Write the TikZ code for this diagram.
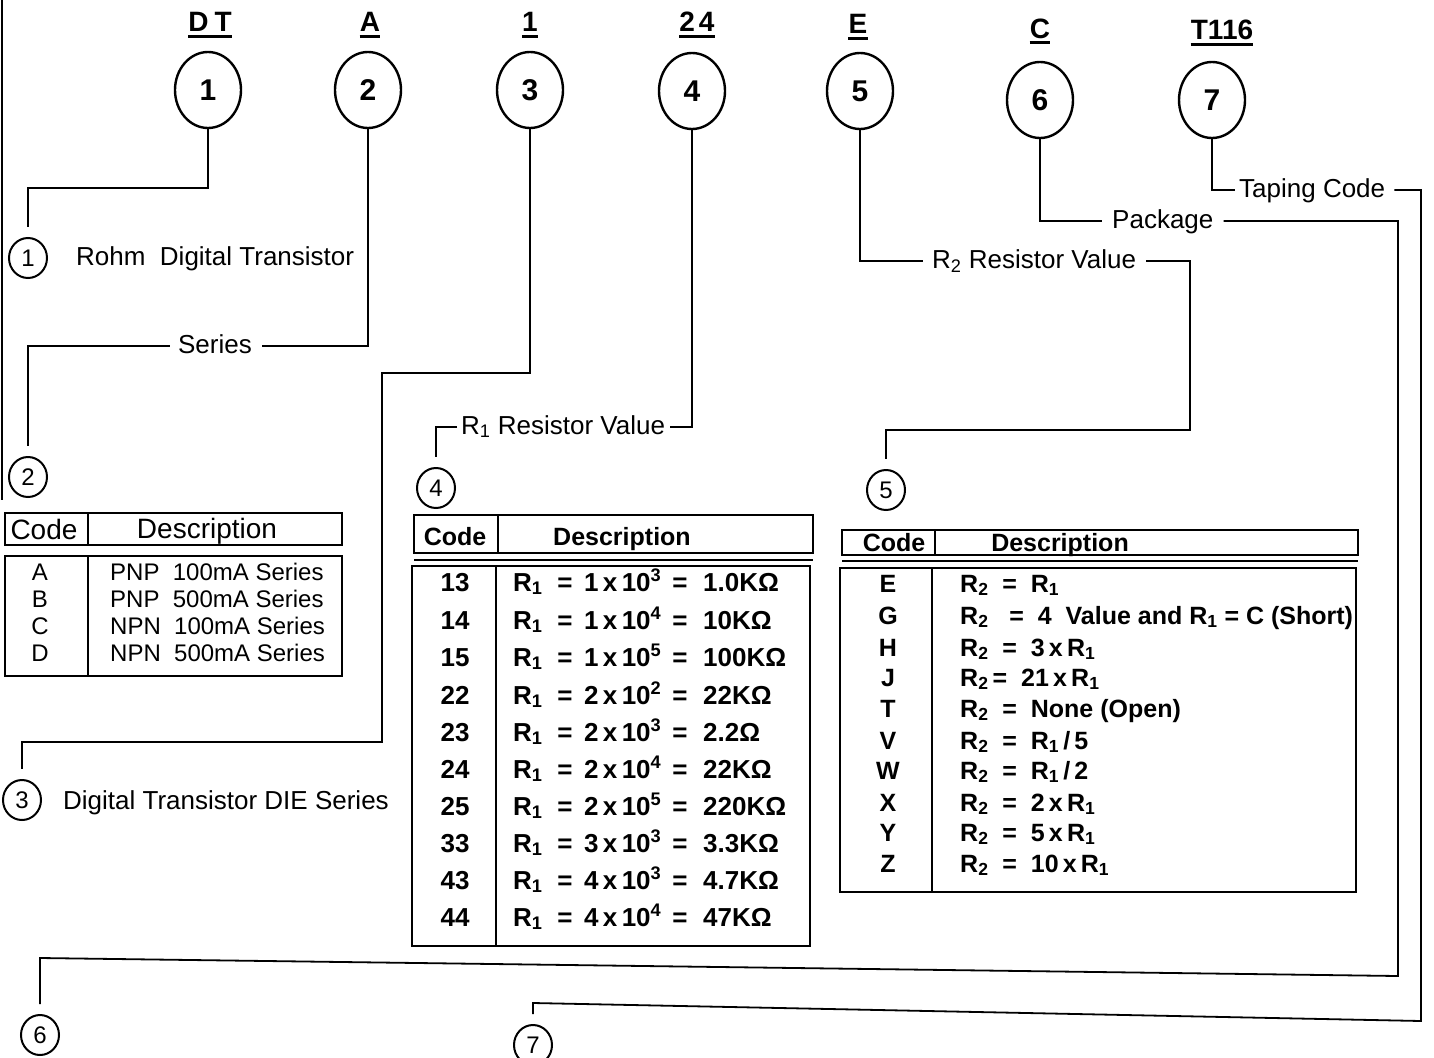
\documentclass[tikz,border=0pt]{standalone}
\usepackage{fontspec}
\setmainfont{Liberation Sans}
\usetikzlibrary{shapes.geometric}
\newcommand\setfs[1]{\fontsize{#1}{#1}\selectfont}
\begin{document}
\begin{tikzpicture}[x=1pt,y=-1pt,
  big/.style={ellipse, draw, line width=2.4pt, minimum width=66pt, minimum height=76pt, inner sep=0pt, font=\setfs{30}\bfseries},
  small/.style={ellipse, draw, line width=2pt, minimum width=38pt, minimum height=40pt, inner sep=0pt, font=\setfs{24}},
  codetxt/.style={font=\setfs{28}\bfseries, inner sep=0pt},
  ul/.style={line width=3pt},
  lab/.style={font=\setfs{26}, inner sep=0pt, text height=19pt, text depth=5pt},
  conn/.style={line width=1.8pt},
  sh/.style={shorten >=10pt},
  tb/.style={line width=2pt},
  h2/.style={font=\setfs{28}, inner sep=0pt},
  t2/.style={font=\setfs{24}, inner sep=0pt},
  h4/.style={font=\setfs{25}\bfseries, inner sep=0pt},
  t4/.style={font=\setfs{26}\bfseries, inner sep=0pt},
  t5/.style={font=\setfs{25}\bfseries, inner sep=0pt}]
\useasboundingbox (0,0) rectangle (1434,1057);
\clip (0,0) rectangle (1434,1057);
% left border
\draw[conn] (2,0) -- (2,500);
% header codes
\node[codetxt, anchor=base] (kDT) at (210,32) {D\hspace{6pt}T};
\node[codetxt, anchor=base] (kA) at (370,32) {A};
\node[codetxt, anchor=base] (k1) at (530,32) {1};
\node[codetxt, anchor=base] (k24) at (697,32) {2\hspace{4pt}4};
\node[codetxt, anchor=base] (kE) at (858,34) {E};
\node[codetxt, anchor=base] (kC) at (1040,38) {C};
\node[codetxt, anchor=base] (kT) at (1222,40) {T116};
\foreach \n in {kDT,kA,k1,k24,kE,kC,kT}
  \draw[ul] ([yshift=-5pt]\n.base west) -- ([yshift=-5pt]\n.base east);
% big circles
\node[big] (c1) at (208,90) {1};
\node[big] (c2) at (368,90) {2};
\node[big] (c3) at (530,90) {3};
\node[big] (c4) at (692,91) {4};
\node[big] (c5) at (860,91) {5};
\node[big] (c6) at (1040,100) {6};
\node[big] (c7) at (1212,100) {7};
% small circles
\node[small] (s1) at (28,258) {1};
\node[small] (s2) at (28,477) {2};
\node[small] (s3) at (22,800) {3};
\node[small] (s4) at (436,488) {4};
\node[small] (s5) at (886,490) {5};
\node[small] (s6) at (40,1035) {6};
\node[small] (s7) at (533,1045) {7};
% labels
\node[lab, anchor=west] (rohm) at (76,258) {Rohm~~Digital Transistor};
\node[lab] (ser) at (215,346) {Series};
\node[lab, anchor=west] (r1lab) at (461,427) {R\textsubscript{1} Resistor Value};
\node[lab, anchor=west] (r2lab) at (932,261) {R\textsubscript{2} Resistor Value};
\node[lab, anchor=west] (pkg) at (1112,221) {Package};
\node[lab, anchor=west] (tap) at (1239,190) {Taping Code};
\node[lab, anchor=west] (die) at (63,802) {Digital Transistor DIE Series};
% bend coordinates
\coordinate (h1) at (0,188);
\coordinate (h3a) at (382,373);
\coordinate (h3b) at (382,742);
\coordinate (h5a) at (1190,430);
\coordinate (h6) at (1398,976);
\coordinate (h6l) at (0,958);
\coordinate (h7) at (1421,1021);
\coordinate (h7l) at (0,1003);
% connectors
\draw[conn,sh] (c1.south) -- (c1.south |- h1) -| (s1.north);
\draw[conn] (c2.south) |- ([xshift=10pt]ser.east);
\draw[conn,sh] ([xshift=-8pt]ser.west) -| (s2.north);
\draw[conn,sh] (c3.south) |- (h3a) -- (h3b) -| (s3.north);
\draw[conn] (c4.south) |- ([xshift=5pt]r1lab.east);
\draw[conn,sh] ([xshift=-4pt]r1lab.west) -| (s4.north);
\draw[conn] (c5.south) |- ([xshift=-9pt]r2lab.west);
\draw[conn,sh] ([xshift=10pt]r2lab.east) -| (h5a) -| (s5.north);
\draw[conn] (c6.south) |- ([xshift=-10pt]pkg.west);
\draw[conn,sh] ([xshift=10pt]pkg.east) -| (h6) -- (s6.north |- h6l) -- (s6.north);
\draw[conn] (c7.south) |- ([xshift=-4pt]tap.west);
\draw[conn,sh] ([xshift=9pt]tap.east) -| (h7) -- (s7.north |- h7l) -- (s7.north);
% ---------- table 2
\draw[tb] (5,513) rectangle (342,545);
\draw[tb] (88,513) -- (88,545);
\draw[tb] (5,556) rectangle (342,676);
\draw[tb] (88,556) -- (88,676);
\node[h2] (t2code) at (44,529) {Code};
\node[h2] (t2desc) at (207,531) {Description};
\foreach \cc/\dd/\yy in {A/PNP~~100mA Series/572, B/PNP~~500mA Series/599, C/NPN~~100mA Series/626, D/NPN~~500mA Series/653} {
  \node[t2, anchor=base] (t2k\cc) at (40,\yy+8) {\cc};
  \node[t2, anchor=base west] (t2d\cc) at (110,\yy+8) {\dd};
}
% ---------- table 4
\draw[tb] (414,515) rectangle (813,553);
\draw[tb] (498,515) -- (498,553);
\draw[tb] (414,560) -- (813,560);
\draw[tb] (412,566) rectangle (810,946);
\draw[tb] (496,566) -- (496,946);
\node[h4] (t4code) at (455,537) {Code};
\node[h4] (t4desc) at (622,539) {Description};
\foreach \kc/\mm/\ex/\vv/\yy in {13/1/3/1.0KΩ/582, 14/1/4/10KΩ/620, 15/1/5/100KΩ/657, 22/2/2/22KΩ/695, 23/2/3/2.2Ω/732, 24/2/4/22KΩ/769, 25/2/5/220KΩ/806, 33/3/3/3.3KΩ/843, 43/4/3/4.7KΩ/880, 44/4/4/47KΩ/917} {
  \node[t4, anchor=base] (t4k\kc) at (455,\yy+9) {\kc};
  \node[t4, anchor=base west] (t4r\kc) at (513,\yy+9) {R\textsubscript{1}};
  \node[t4, anchor=base] (t4e\kc) at (565,\yy+9) {=};
  \node[t4, anchor=base west] (t4m\kc) at (584,\yy+9) {\mm\,x\,10\textsuperscript{\ex}};
  \node[t4, anchor=base] (t4f\kc) at (680,\yy+9) {=};
  \node[t4, anchor=base west] (t4v\kc) at (703,\yy+9) {\vv};
}
% ---------- table 5
\draw[tb] (842,530) rectangle (1358,555);
\draw[tb] (935,530) -- (935,555);
\draw[tb] (842,561) -- (1358,561);
\draw[tb] (840,568) rectangle (1356,892);
\draw[tb] (932,568) -- (932,892);
\node[h4] (t5code) at (894,543) {Code};
\node[h4] (t5desc) at (1060,545) {Description};
\node[t5, anchor=base] (t5kE) at (888,592) {E};
\node[t5, anchor=base] (t5kG) at (888,624) {G};
\node[t5, anchor=base] (t5kH) at (888,656) {H};
\node[t5, anchor=base] (t5kJ) at (888,686) {J};
\node[t5, anchor=base] (t5kT) at (888,717) {T};
\node[t5, anchor=base] (t5kV) at (888,749) {V};
\node[t5, anchor=base] (t5kW) at (888,779) {W};
\node[t5, anchor=base] (t5kX) at (888,811) {X};
\node[t5, anchor=base] (t5kY) at (888,841) {Y};
\node[t5, anchor=base] (t5kZ) at (888,872) {Z};
\node[t5, anchor=base west] (t5dE) at (960,592) {R\textsubscript{2}~~=~~R\textsubscript{1}};
\node[t5, anchor=base west] (t5dG) at (960,624) {R\textsubscript{2}~~~=~~4~~Value and R\textsubscript{1} = C (Short)};
\node[t5, anchor=base west] (t5dH) at (960,656) {R\textsubscript{2}~~=~~3\,x\,R\textsubscript{1}};
\node[t5, anchor=base west] (t5dJ) at (960,686) {R\textsubscript{2}\,=~~21\,x\,R\textsubscript{1}};
\node[t5, anchor=base west] (t5dT) at (960,717) {R\textsubscript{2}~~=~~None (Open)};
\node[t5, anchor=base west] (t5dV) at (960,749) {R\textsubscript{2}~~=~~R\textsubscript{1}\,/\,5};
\node[t5, anchor=base west] (t5dW) at (960,779) {R\textsubscript{2}~~=~~R\textsubscript{1}\,/\,2};
\node[t5, anchor=base west] (t5dX) at (960,811) {R\textsubscript{2}~~=~~2\,x\,R\textsubscript{1}};
\node[t5, anchor=base west] (t5dY) at (960,841) {R\textsubscript{2}~~=~~5\,x\,R\textsubscript{1}};
\node[t5, anchor=base west] (t5dZ) at (960,872) {R\textsubscript{2}~~=~~10\,x\,R\textsubscript{1}};
\end{tikzpicture}
\end{document}
